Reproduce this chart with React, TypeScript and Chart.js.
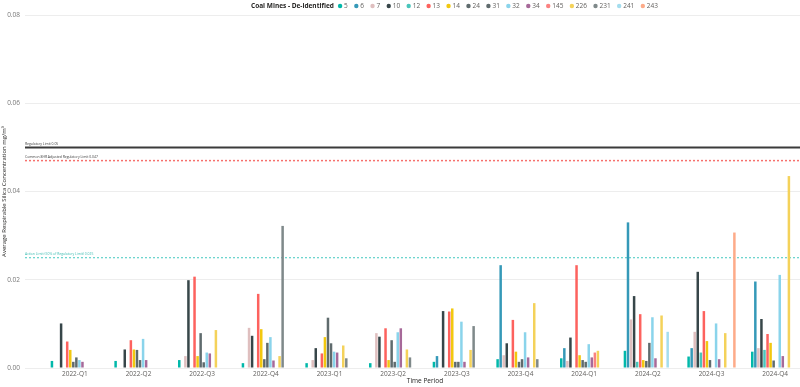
import React, { useEffect, useRef } from "react";
import { Chart, registerables } from "chart.js";

Chart.register(...registerables);

const FONT = "'Segoe UI', 'Open Sans', sans-serif";

const categories = [
  "2022-Q1", "2022-Q2", "2022-Q3", "2022-Q4",
  "2023-Q1", "2023-Q2", "2023-Q3", "2023-Q4",
  "2024-Q1", "2024-Q2", "2024-Q3", "2024-Q4",
];

const legendTitle = "Coal Mines - De-identified";
const seriesNames = ["5", "6", "7", "10", "12", "13", "14", "24", "31", "32", "34", "145", "226", "231", "241", "243"];

const s5 = [0.0016, 0.0016, 0.0018, 0.0011, 0.0011, 0.0011, 0.0014, 0.0020, 0.0022, 0.0039, 0.0026, 0.0037];
const s6 = [null, null, null, null, null, null, 0.0027, 0.0233, 0.0045, 0.0330, 0.0045, 0.0196];
const s7 = [null, null, 0.0027, 0.0091, 0.0018, 0.0079, null, 0.0029, 0.0016, 0.0110, 0.0082, 0.0045];
const s10 = [0.0101, 0.0042, 0.0199, 0.0073, 0.0045, 0.0071, 0.0129, 0.0056, 0.0069, 0.0163, 0.0218, 0.0111];
const s12 = [null, null, null, null, null, null, null, null, null, 0.0014, 0.0035, 0.0041];
const s13 = [0.0060, 0.0063, 0.0207, 0.0168, 0.0033, 0.0090, 0.0128, 0.0109, 0.0233, 0.0122, 0.0129, 0.0077];
const s14 = [0.0041, 0.0042, 0.0027, 0.0088, 0.0070, 0.0018, 0.0135, 0.0037, 0.0029, 0.0018, 0.0061, 0.0057];
const s24 = [0.0014, 0.0041, 0.0079, 0.0020, 0.0114, 0.0063, 0.0014, 0.0014, 0.0018, 0.0016, 0.0018, 0.0017];
const s31 = [0.0024, 0.0018, 0.0013, 0.0057, 0.0056, 0.0014, 0.0014, 0.0020, 0.0014, 0.0057, null, null];
const s32 = [0.0018, 0.0066, 0.0035, 0.0070, 0.0037, 0.0081, 0.0105, 0.0081, 0.0054, 0.0115, 0.0101, 0.0211];
const s34 = [0.0014, 0.0018, 0.0033, 0.0017, 0.0035, 0.0090, 0.0014, 0.0024, 0.0024, 0.0022, 0.0020, 0.0027];
const s145 = [null, null, null, null, null, null, null, null, 0.0035, null, null, null];
const s226 = [null, null, 0.0086, 0.0027, 0.0051, 0.0042, 0.0041, 0.0147, 0.0039, 0.0119, 0.0079, 0.0435];
const s231 = [null, null, null, 0.0322, 0.0022, 0.0024, 0.0095, 0.0020, null, null, null, null];
const s241 = [null, null, null, null, null, null, null, null, null, 0.0082, null, null];
const s243 = [null, null, null, null, null, null, null, null, null, null, 0.0307, null];

const seriesValues = [s5, s6, s7, s10, s12, s13, s14, s24, s31, s32, s34, s145, s226, s231, s241, s243];

const seriesColors = [
  "#01B8AA", "#3599B8", "#DFBFBF", "#374649", "#4AC5BB", "#FD625E", "#F2C80F", "#5F6B6D",
  "#5F6B6D", "#8AD4EB", "#A66999", "#FB8281", "#F4D25A", "#7F898A", "#A4DDEE", "#FDAB89",
];

const yTicks = [0, 0.02, 0.04, 0.06, 0.08];

const limitValues = [0.05, 0.047, 0.025];
const limitLabels = [
  "Regulatory Limit 0.05",
  "Common 8HR Adjusted Regulatory Limit 0.047",
  "Action Limit (50% of Regulatory Limit) 0.025",
];
const limitStyles = [
  { color: "#3B3B3B", width: 2, dash: [] as number[], text: "#3B3B3B" },
  { color: "#F7716D", width: 1.5, dash: [2, 2], text: "#3B3B3B" },
  { color: "#62D2CA", width: 1.2, dash: [2, 2], text: "#3DBDB3" },
];

const refLinePlugin = {
  id: "refLines",
  beforeDatasetsDraw(chart: any) {
    const { ctx, chartArea, scales } = chart;
    const y = scales.y;
    const x0 = chartArea.left - 18;
    const x1 = chartArea.right;
    limitValues.forEach((v, i) => {
      const st = limitStyles[i];
      const py = y.getPixelForValue(v);
      ctx.save();
      ctx.strokeStyle = st.color;
      ctx.lineWidth = st.width;
      ctx.setLineDash(st.dash);
      ctx.beginPath();
      ctx.moveTo(x0, py);
      ctx.lineTo(x1, py);
      ctx.stroke();
      ctx.setLineDash([]);
      ctx.fillStyle = st.text;
      ctx.font = `3.4px ${FONT}`;
      ctx.textBaseline = "bottom";
      ctx.textAlign = "left";
      ctx.fillText(limitLabels[i], x0, py - 2);
      ctx.restore();
    });
  },
};

const legendPlugin = {
  id: "inlineLegend",
  afterDraw(chart: any) {
    const ctx = chart.ctx;
    ctx.save();
    const y = 6;
    ctx.textBaseline = "middle";
    ctx.textAlign = "left";
    ctx.font = `bold 6.5px ${FONT}`;
    let x = 251;
    ctx.fillStyle = "#252423";
    ctx.fillText(legendTitle, x, y);
    x += ctx.measureText(legendTitle).width + 4;
    ctx.font = `6.5px ${FONT}`;
    seriesNames.forEach((n, i) => {
      ctx.fillStyle = seriesColors[i];
      ctx.beginPath();
      ctx.arc(x + 2.2, y, 2.2, 0, Math.PI * 2);
      ctx.fill();
      x += 6.2;
      ctx.fillStyle = "#605E5C";
      ctx.fillText(n, x, y);
      x += ctx.measureText(n).width + 6.3;
    });
    ctx.restore();
  },
};

export default function App() {
  const ref = useRef<HTMLCanvasElement | null>(null);

  useEffect(() => {
    document.body.style.margin = "0";
    document.body.style.overflow = "hidden";
    document.documentElement.style.overflow = "hidden";
    if (!ref.current) return;
    const chart = new Chart(ref.current, {
      type: "bar",
      data: {
        labels: categories,
        datasets: seriesNames.map((n, i) => ({
          label: n,
          data: seriesValues[i] as any,
          backgroundColor: seriesColors[i],
          categoryPercentage: 0.767,
          barPercentage: 0.82,
        })),
      },
      options: {
        animation: false,
        responsive: false,
        maintainAspectRatio: false,
        layout: { padding: { top: 15, right: 3, left: 0, bottom: 0 } },
        plugins: {
          legend: { display: false },
          tooltip: { enabled: false },
        },
        scales: {
          x: {
            grid: { display: false, drawTicks: false },
            border: { display: false },
            ticks: {
              color: "#605E5C",
              font: { size: 6.5, family: FONT },
              padding: 2,
              maxRotation: 0,
              autoSkip: false,
            },
            title: {
              display: true,
              text: "Time Period",
              color: "#252423",
              font: { size: 6.5, family: FONT },
              padding: { top: 0, bottom: 2 },
            },
            afterFit: (s: any) => {
              s.height = 19;
            },
          },
          y: {
            min: 0,
            max: 0.08,
            afterBuildTicks: (s: any) => {
              s.ticks = yTicks.map((v) => ({ value: v }));
            },
            ticks: {
              callback: (v: any) => Number(v).toFixed(2),
              color: "#777777",
              font: { size: 6.5, family: FONT },
              padding: 5,
            },
            grid: { color: "#EDEDED", tickLength: 18, drawTicks: true, tickColor: "#EDEDED" },
            border: { display: false },
            title: {
              display: true,
              text: "Average Respirable Silica Concentration mg/m³",
              color: "#252423",
              font: { size: 6, family: FONT },
              padding: { top: 1, bottom: 0 },
            },
            afterFit: (s: any) => {
              s.width = 43;
            },
          },
        },
      },
      plugins: [refLinePlugin, legendPlugin],
    });
    return () => chart.destroy();
  }, []);

  return (
    <div style={{ position: "absolute", left: 0, top: 0, width: 810, height: 387, background: "#fff" }}>
      <canvas ref={ref} width={810} height={387} style={{ width: 810, height: 387, display: "block" }} />
    </div>
  );
}
